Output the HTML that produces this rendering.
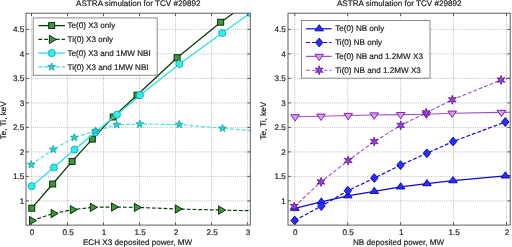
<!DOCTYPE html>
<html><head><meta charset="utf-8"><style>
html,body{margin:0;padding:0;background:#fff;}
svg{display:block;will-change:transform;}
text{text-rendering:geometricPrecision;font-family:'Liberation Sans', sans-serif;font-size:8.1px;fill:#1a1a1a;stroke:#1a1a1a;stroke-width:0.18px;}
</style></head><body>
<svg width="512" height="247" viewBox="0 0 512 247">
<rect width="512" height="247" fill="#fff"/>
<clipPath id="cl"><rect x="26.0" y="13.2" width="224.3" height="211.9"/></clipPath>
<clipPath id="cr"><rect x="288" y="13.2" width="222.2" height="211.9"/></clipPath>
<line x1="31.5" y1="13.2" x2="31.5" y2="225.1" stroke="#bcbcbc" stroke-width="1" stroke-dasharray="1 1.2"/>
<line x1="67.52" y1="13.2" x2="67.52" y2="225.1" stroke="#bcbcbc" stroke-width="1" stroke-dasharray="1 1.2"/>
<line x1="103.53" y1="13.2" x2="103.53" y2="225.1" stroke="#bcbcbc" stroke-width="1" stroke-dasharray="1 1.2"/>
<line x1="139.55" y1="13.2" x2="139.55" y2="225.1" stroke="#bcbcbc" stroke-width="1" stroke-dasharray="1 1.2"/>
<line x1="175.56" y1="13.2" x2="175.56" y2="225.1" stroke="#bcbcbc" stroke-width="1" stroke-dasharray="1 1.2"/>
<line x1="211.57" y1="13.2" x2="211.57" y2="225.1" stroke="#bcbcbc" stroke-width="1" stroke-dasharray="1 1.2"/>
<line x1="247.59" y1="13.2" x2="247.59" y2="225.1" stroke="#bcbcbc" stroke-width="1" stroke-dasharray="1 1.2"/>
<line x1="26" y1="200.9" x2="250.3" y2="200.9" stroke="#bcbcbc" stroke-width="1" stroke-dasharray="1 1.2"/>
<line x1="26" y1="176.4" x2="250.3" y2="176.4" stroke="#bcbcbc" stroke-width="1" stroke-dasharray="1 1.2"/>
<line x1="26" y1="151.9" x2="250.3" y2="151.9" stroke="#bcbcbc" stroke-width="1" stroke-dasharray="1 1.2"/>
<line x1="26" y1="127.4" x2="250.3" y2="127.4" stroke="#bcbcbc" stroke-width="1" stroke-dasharray="1 1.2"/>
<line x1="26" y1="102.9" x2="250.3" y2="102.9" stroke="#bcbcbc" stroke-width="1" stroke-dasharray="1 1.2"/>
<line x1="26" y1="78.4" x2="250.3" y2="78.4" stroke="#bcbcbc" stroke-width="1" stroke-dasharray="1 1.2"/>
<line x1="26" y1="53.9" x2="250.3" y2="53.9" stroke="#bcbcbc" stroke-width="1" stroke-dasharray="1 1.2"/>
<line x1="26" y1="29.4" x2="250.3" y2="29.4" stroke="#bcbcbc" stroke-width="1" stroke-dasharray="1 1.2"/>
<polyline points="31.8,208.2 52.7,184 72.1,161.4 92.3,139.1 113.2,117 137,95.2 177.1,57.7 220.7,22.2 252,0" fill="none" stroke="#0a3e0a" stroke-width="1.3" clip-path="url(#cl)"/>
<rect x="28.8" y="205.2" width="6.0" height="6.0" fill="#3a9a3a" stroke="#021e02" stroke-width="0.9"/>
<rect x="49.7" y="181" width="6.0" height="6.0" fill="#3a9a3a" stroke="#021e02" stroke-width="0.9"/>
<rect x="69.1" y="158.4" width="6.0" height="6.0" fill="#3a9a3a" stroke="#021e02" stroke-width="0.9"/>
<rect x="89.3" y="136.1" width="6.0" height="6.0" fill="#3a9a3a" stroke="#021e02" stroke-width="0.9"/>
<rect x="110.2" y="114" width="6.0" height="6.0" fill="#3a9a3a" stroke="#021e02" stroke-width="0.9"/>
<rect x="134" y="92.2" width="6.0" height="6.0" fill="#3a9a3a" stroke="#021e02" stroke-width="0.9"/>
<rect x="174.1" y="54.7" width="6.0" height="6.0" fill="#3a9a3a" stroke="#021e02" stroke-width="0.9"/>
<rect x="217.7" y="19.2" width="6.0" height="6.0" fill="#3a9a3a" stroke="#021e02" stroke-width="0.9"/>
<polyline points="31.8,220.6 53.4,213.5 72.6,209.7 92.6,207.3 113.8,207 136.7,207.4 177.6,209 220.9,210.1 262,211" fill="none" stroke="#0a3e0a" stroke-width="1.2" stroke-dasharray="3.8 2.0" clip-path="url(#cl)"/>
<polygon points="29.47,216.4 36.47,220.6 29.47,224.8" fill="#3a9a3a" stroke="#021e02" stroke-width="0.9" stroke-linejoin="miter"/>
<polygon points="51.07,209.3 58.07,213.5 51.07,217.7" fill="#3a9a3a" stroke="#021e02" stroke-width="0.9" stroke-linejoin="miter"/>
<polygon points="70.27,205.5 77.27,209.7 70.27,213.9" fill="#3a9a3a" stroke="#021e02" stroke-width="0.9" stroke-linejoin="miter"/>
<polygon points="90.27,203.1 97.27,207.3 90.27,211.5" fill="#3a9a3a" stroke="#021e02" stroke-width="0.9" stroke-linejoin="miter"/>
<polygon points="111.47,202.8 118.47,207 111.47,211.2" fill="#3a9a3a" stroke="#021e02" stroke-width="0.9" stroke-linejoin="miter"/>
<polygon points="134.37,203.2 141.37,207.4 134.37,211.6" fill="#3a9a3a" stroke="#021e02" stroke-width="0.9" stroke-linejoin="miter"/>
<polygon points="175.27,204.8 182.27,209 175.27,213.2" fill="#3a9a3a" stroke="#021e02" stroke-width="0.9" stroke-linejoin="miter"/>
<polygon points="218.57,205.9 225.57,210.1 218.57,214.3" fill="#3a9a3a" stroke="#021e02" stroke-width="0.9" stroke-linejoin="miter"/>
<polyline points="31.7,186.2 53.8,167.5 74.6,149.6 95.4,132.2 117,114.6 140,95.2 179.5,64 222.2,33 250.6,12.9" fill="none" stroke="#28e2e2" stroke-width="1.3" clip-path="url(#cl)"/>
<circle cx="31.7" cy="186.2" r="3.6" fill="#30ecec" stroke="#12aaaa" stroke-width="0.8"/>
<circle cx="53.8" cy="167.5" r="3.6" fill="#30ecec" stroke="#12aaaa" stroke-width="0.8"/>
<circle cx="74.6" cy="149.6" r="3.6" fill="#30ecec" stroke="#12aaaa" stroke-width="0.8"/>
<circle cx="95.4" cy="132.2" r="3.6" fill="#30ecec" stroke="#12aaaa" stroke-width="0.8"/>
<circle cx="117" cy="114.6" r="3.6" fill="#30ecec" stroke="#12aaaa" stroke-width="0.8"/>
<circle cx="140" cy="95.2" r="3.6" fill="#30ecec" stroke="#12aaaa" stroke-width="0.8"/>
<circle cx="179.5" cy="64" r="3.6" fill="#30ecec" stroke="#12aaaa" stroke-width="0.8"/>
<circle cx="222.2" cy="33" r="3.6" fill="#30ecec" stroke="#12aaaa" stroke-width="0.8"/>
<g clip-path="url(#cl)"><circle cx="250.6" cy="12.9" r="3.6" fill="#30ecec" stroke="#12aaaa" stroke-width="0.8"/></g>
<polyline points="31.2,164.6 53.2,149.4 74.3,137.5 95.6,131 116.7,124.7 139.8,124.1 179.2,124.5 222.5,128.3 262,131.5" fill="none" stroke="#40dede" stroke-width="1.1" stroke-dasharray="3.8 2.0" clip-path="url(#cl)"/>
<polygon points="31.2,160.5 32.17,163.27 35.1,163.33 32.77,165.11 33.61,167.92 31.2,166.25 28.79,167.92 29.63,165.11 27.3,163.33 30.23,163.27" fill="#22d4d0" stroke="#10a4a4" stroke-width="0.8"/>
<polygon points="53.2,145.3 54.17,148.07 57.1,148.13 54.77,149.91 55.61,152.72 53.2,151.05 50.79,152.72 51.63,149.91 49.3,148.13 52.23,148.07" fill="#22d4d0" stroke="#10a4a4" stroke-width="0.8"/>
<polygon points="74.3,133.4 75.27,136.17 78.2,136.23 75.87,138.01 76.71,140.82 74.3,139.15 71.89,140.82 72.73,138.01 70.4,136.23 73.33,136.17" fill="#22d4d0" stroke="#10a4a4" stroke-width="0.8"/>
<polygon points="95.6,126.9 96.57,129.67 99.5,129.73 97.17,131.51 98.01,134.32 95.6,132.65 93.19,134.32 94.03,131.51 91.7,129.73 94.63,129.67" fill="#22d4d0" stroke="#10a4a4" stroke-width="0.8"/>
<polygon points="116.7,120.6 117.67,123.37 120.6,123.43 118.27,125.21 119.11,128.02 116.7,126.35 114.29,128.02 115.13,125.21 112.8,123.43 115.73,123.37" fill="#22d4d0" stroke="#10a4a4" stroke-width="0.8"/>
<polygon points="139.8,120 140.77,122.77 143.7,122.83 141.37,124.61 142.21,127.42 139.8,125.75 137.39,127.42 138.23,124.61 135.9,122.83 138.83,122.77" fill="#22d4d0" stroke="#10a4a4" stroke-width="0.8"/>
<polygon points="179.2,120.4 180.17,123.17 183.1,123.23 180.77,125.01 181.61,127.82 179.2,126.15 176.79,127.82 177.63,125.01 175.3,123.23 178.23,123.17" fill="#22d4d0" stroke="#10a4a4" stroke-width="0.8"/>
<polygon points="222.5,124.2 223.47,126.97 226.4,127.03 224.07,128.81 224.91,131.62 222.5,129.95 220.09,131.62 220.93,128.81 218.6,127.03 221.53,126.97" fill="#22d4d0" stroke="#10a4a4" stroke-width="0.8"/>
<line x1="31.5" y1="225.1" x2="31.5" y2="222.3" stroke="#444" stroke-width="0.9"/>
<line x1="31.5" y1="13.2" x2="31.5" y2="16" stroke="#444" stroke-width="0.9"/>
<line x1="67.52" y1="225.1" x2="67.52" y2="222.3" stroke="#444" stroke-width="0.9"/>
<line x1="67.52" y1="13.2" x2="67.52" y2="16" stroke="#444" stroke-width="0.9"/>
<line x1="103.53" y1="225.1" x2="103.53" y2="222.3" stroke="#444" stroke-width="0.9"/>
<line x1="103.53" y1="13.2" x2="103.53" y2="16" stroke="#444" stroke-width="0.9"/>
<line x1="139.55" y1="225.1" x2="139.55" y2="222.3" stroke="#444" stroke-width="0.9"/>
<line x1="139.55" y1="13.2" x2="139.55" y2="16" stroke="#444" stroke-width="0.9"/>
<line x1="175.56" y1="225.1" x2="175.56" y2="222.3" stroke="#444" stroke-width="0.9"/>
<line x1="175.56" y1="13.2" x2="175.56" y2="16" stroke="#444" stroke-width="0.9"/>
<line x1="211.57" y1="225.1" x2="211.57" y2="222.3" stroke="#444" stroke-width="0.9"/>
<line x1="211.57" y1="13.2" x2="211.57" y2="16" stroke="#444" stroke-width="0.9"/>
<line x1="247.59" y1="225.1" x2="247.59" y2="222.3" stroke="#444" stroke-width="0.9"/>
<line x1="247.59" y1="13.2" x2="247.59" y2="16" stroke="#444" stroke-width="0.9"/>
<line x1="26" y1="200.9" x2="28.8" y2="200.9" stroke="#444" stroke-width="0.9"/>
<line x1="250.3" y1="200.9" x2="247.5" y2="200.9" stroke="#444" stroke-width="0.9"/>
<line x1="26" y1="176.4" x2="28.8" y2="176.4" stroke="#444" stroke-width="0.9"/>
<line x1="250.3" y1="176.4" x2="247.5" y2="176.4" stroke="#444" stroke-width="0.9"/>
<line x1="26" y1="151.9" x2="28.8" y2="151.9" stroke="#444" stroke-width="0.9"/>
<line x1="250.3" y1="151.9" x2="247.5" y2="151.9" stroke="#444" stroke-width="0.9"/>
<line x1="26" y1="127.4" x2="28.8" y2="127.4" stroke="#444" stroke-width="0.9"/>
<line x1="250.3" y1="127.4" x2="247.5" y2="127.4" stroke="#444" stroke-width="0.9"/>
<line x1="26" y1="102.9" x2="28.8" y2="102.9" stroke="#444" stroke-width="0.9"/>
<line x1="250.3" y1="102.9" x2="247.5" y2="102.9" stroke="#444" stroke-width="0.9"/>
<line x1="26" y1="78.4" x2="28.8" y2="78.4" stroke="#444" stroke-width="0.9"/>
<line x1="250.3" y1="78.4" x2="247.5" y2="78.4" stroke="#444" stroke-width="0.9"/>
<line x1="26" y1="53.9" x2="28.8" y2="53.9" stroke="#444" stroke-width="0.9"/>
<line x1="250.3" y1="53.9" x2="247.5" y2="53.9" stroke="#444" stroke-width="0.9"/>
<line x1="26" y1="29.4" x2="28.8" y2="29.4" stroke="#444" stroke-width="0.9"/>
<line x1="250.3" y1="29.4" x2="247.5" y2="29.4" stroke="#444" stroke-width="0.9"/>
<rect x="26" y="13.2" width="224.3" height="211.9" fill="none" stroke="#555" stroke-width="0.95"/>
<text x="32" y="234.7" text-anchor="middle" >0</text>
<text x="68.02" y="234.7" text-anchor="middle" >0.5</text>
<text x="104.03" y="234.7" text-anchor="middle" >1</text>
<text x="140.05" y="234.7" text-anchor="middle" >1.5</text>
<text x="176.06" y="234.7" text-anchor="middle" >2</text>
<text x="212.07" y="234.7" text-anchor="middle" >2.5</text>
<text x="248.09" y="234.7" text-anchor="middle" >3</text>
<text x="24.2" y="203.8" text-anchor="end" >1</text>
<text x="24.2" y="179.3" text-anchor="end" >1.5</text>
<text x="24.2" y="154.8" text-anchor="end" >2</text>
<text x="24.2" y="130.3" text-anchor="end" >2.5</text>
<text x="24.2" y="105.8" text-anchor="end" >3</text>
<text x="24.2" y="81.3" text-anchor="end" >3.5</text>
<text x="24.2" y="56.8" text-anchor="end" >4</text>
<text x="24.2" y="32.3" text-anchor="end" >4.5</text>
<text x="138.3" y="5.5" text-anchor="middle" >ASTRA simulation for TCV #29892</text>
<text x="137.6" y="245.1" text-anchor="middle" >ECH X3 deposited power, MW</text>
<text x="0" y="0" text-anchor="middle" transform="translate(5.5,120.3) rotate(-90)">Te, Ti, keV</text>
<rect x="33.2" y="17.9" width="124" height="57.4" fill="#fff" stroke="#8a8a8a" stroke-width="1"/>
<line x1="38.4" y1="25.6" x2="65" y2="25.6" stroke="#0a3e0a" stroke-width="1.3"/>
<rect x="48.7" y="22.6" width="6.0" height="6.0" fill="#3a9a3a" stroke="#021e02" stroke-width="0.9"/>
<text x="67.5" y="28.2" text-anchor="start" >Te(0) X3 only</text>
<line x1="38.4" y1="39.4" x2="65" y2="39.4" stroke="#0a3e0a" stroke-width="1.2" stroke-dasharray="3.8 2.0"/>
<polygon points="49.37,35.2 56.37,39.4 49.37,43.6" fill="#3a9a3a" stroke="#021e02" stroke-width="0.9" stroke-linejoin="miter"/>
<text x="67.5" y="42" text-anchor="start" >Ti(0) X3 only</text>
<line x1="38.4" y1="53.1" x2="65" y2="53.1" stroke="#28e2e2" stroke-width="1.3"/>
<circle cx="51.7" cy="53.1" r="3.6" fill="#30ecec" stroke="#12aaaa" stroke-width="0.8"/>
<text x="67.5" y="55.7" text-anchor="start" >Te(0) X3 and 1MW NBI</text>
<line x1="38.4" y1="66.9" x2="65" y2="66.9" stroke="#40dede" stroke-width="1.2" stroke-dasharray="3.8 2.0"/>
<polygon points="51.7,62.8 52.67,65.57 55.6,65.63 53.27,67.41 54.11,70.22 51.7,68.55 49.29,70.22 50.13,67.41 47.8,65.63 50.73,65.57" fill="#22d4d0" stroke="#10a4a4" stroke-width="0.8"/>
<text x="67.5" y="69.5" text-anchor="start" >Ti(0) X3 and 1MW NBI</text>
<line x1="294.8" y1="13.2" x2="294.8" y2="225.1" stroke="#bcbcbc" stroke-width="1" stroke-dasharray="1 1.2"/>
<line x1="347.73" y1="13.2" x2="347.73" y2="225.1" stroke="#bcbcbc" stroke-width="1" stroke-dasharray="1 1.2"/>
<line x1="400.65" y1="13.2" x2="400.65" y2="225.1" stroke="#bcbcbc" stroke-width="1" stroke-dasharray="1 1.2"/>
<line x1="453.57" y1="13.2" x2="453.57" y2="225.1" stroke="#bcbcbc" stroke-width="1" stroke-dasharray="1 1.2"/>
<line x1="506.5" y1="13.2" x2="506.5" y2="225.1" stroke="#bcbcbc" stroke-width="1" stroke-dasharray="1 1.2"/>
<line x1="288" y1="200.9" x2="510.2" y2="200.9" stroke="#bcbcbc" stroke-width="1" stroke-dasharray="1 1.2"/>
<line x1="288" y1="176.4" x2="510.2" y2="176.4" stroke="#bcbcbc" stroke-width="1" stroke-dasharray="1 1.2"/>
<line x1="288" y1="151.9" x2="510.2" y2="151.9" stroke="#bcbcbc" stroke-width="1" stroke-dasharray="1 1.2"/>
<line x1="288" y1="127.4" x2="510.2" y2="127.4" stroke="#bcbcbc" stroke-width="1" stroke-dasharray="1 1.2"/>
<line x1="288" y1="102.9" x2="510.2" y2="102.9" stroke="#bcbcbc" stroke-width="1" stroke-dasharray="1 1.2"/>
<line x1="288" y1="78.4" x2="510.2" y2="78.4" stroke="#bcbcbc" stroke-width="1" stroke-dasharray="1 1.2"/>
<line x1="288" y1="53.9" x2="510.2" y2="53.9" stroke="#bcbcbc" stroke-width="1" stroke-dasharray="1 1.2"/>
<line x1="288" y1="29.4" x2="510.2" y2="29.4" stroke="#bcbcbc" stroke-width="1" stroke-dasharray="1 1.2"/>
<polyline points="294.8,208.3 321.3,201.9 347.8,195.8 374.3,191.4 400.7,186.9 427,183.7 453,180.7 505.3,175.9 520,174.9" fill="none" stroke="#0a0ad8" stroke-width="1.2" clip-path="url(#cr)"/>
<polygon points="294.8,204.17 299.1,210.37 290.5,210.37" fill="#2c2cff" stroke="#0000b4" stroke-width="0.9"/>
<polygon points="321.3,197.77 325.6,203.97 317,203.97" fill="#2c2cff" stroke="#0000b4" stroke-width="0.9"/>
<polygon points="347.8,191.67 352.1,197.87 343.5,197.87" fill="#2c2cff" stroke="#0000b4" stroke-width="0.9"/>
<polygon points="374.3,187.27 378.6,193.47 370,193.47" fill="#2c2cff" stroke="#0000b4" stroke-width="0.9"/>
<polygon points="400.7,182.77 405,188.97 396.4,188.97" fill="#2c2cff" stroke="#0000b4" stroke-width="0.9"/>
<polygon points="427,179.57 431.3,185.77 422.7,185.77" fill="#2c2cff" stroke="#0000b4" stroke-width="0.9"/>
<polygon points="453,176.57 457.3,182.77 448.7,182.77" fill="#2c2cff" stroke="#0000b4" stroke-width="0.9"/>
<polygon points="505.3,171.77 509.6,177.97 501,177.97" fill="#2c2cff" stroke="#0000b4" stroke-width="0.9"/>
<polyline points="294.7,220.5 321.4,206.1 347.8,190.7 374.3,178.1 400.5,165.1 426.9,153.3 453.1,141.5 505.3,122 520,118.5" fill="none" stroke="#0a0ad8" stroke-width="1.2" stroke-dasharray="3.8 2.0" clip-path="url(#cr)"/>
<polygon points="294.7,216.1 298.4,220.5 294.7,224.9 291,220.5" fill="#2c2cff" stroke="#0000b4" stroke-width="0.9"/>
<polygon points="321.4,201.7 325.1,206.1 321.4,210.5 317.7,206.1" fill="#2c2cff" stroke="#0000b4" stroke-width="0.9"/>
<polygon points="347.8,186.3 351.5,190.7 347.8,195.1 344.1,190.7" fill="#2c2cff" stroke="#0000b4" stroke-width="0.9"/>
<polygon points="374.3,173.7 378,178.1 374.3,182.5 370.6,178.1" fill="#2c2cff" stroke="#0000b4" stroke-width="0.9"/>
<polygon points="400.5,160.7 404.2,165.1 400.5,169.5 396.8,165.1" fill="#2c2cff" stroke="#0000b4" stroke-width="0.9"/>
<polygon points="426.9,148.9 430.6,153.3 426.9,157.7 423.2,153.3" fill="#2c2cff" stroke="#0000b4" stroke-width="0.9"/>
<polygon points="453.1,137.1 456.8,141.5 453.1,145.9 449.4,141.5" fill="#2c2cff" stroke="#0000b4" stroke-width="0.9"/>
<polygon points="505.3,117.6 509,122 505.3,126.4 501.6,122" fill="#2c2cff" stroke="#0000b4" stroke-width="0.9"/>
<polyline points="295.1,116.8 321,116.2 348.2,115.5 374.2,115 400.7,114.6 426.5,114.2 452.2,113.2 501.4,112.4 520,112" fill="none" stroke="#9a50cc" stroke-width="1.1" clip-path="url(#cr)"/>
<polygon points="290.8,114.67 299.4,114.67 295.1,121.07" fill="#e294ff" stroke="#6a1e9a" stroke-width="0.9"/>
<polygon points="316.7,114.07 325.3,114.07 321,120.47" fill="#e294ff" stroke="#6a1e9a" stroke-width="0.9"/>
<polygon points="343.9,113.37 352.5,113.37 348.2,119.77" fill="#e294ff" stroke="#6a1e9a" stroke-width="0.9"/>
<polygon points="369.9,112.87 378.5,112.87 374.2,119.27" fill="#e294ff" stroke="#6a1e9a" stroke-width="0.9"/>
<polygon points="396.4,112.47 405,112.47 400.7,118.87" fill="#e294ff" stroke="#6a1e9a" stroke-width="0.9"/>
<polygon points="422.2,112.07 430.8,112.07 426.5,118.47" fill="#e294ff" stroke="#6a1e9a" stroke-width="0.9"/>
<polygon points="447.9,111.07 456.5,111.07 452.2,117.47" fill="#e294ff" stroke="#6a1e9a" stroke-width="0.9"/>
<polygon points="497.1,110.27 505.7,110.27 501.4,116.67" fill="#e294ff" stroke="#6a1e9a" stroke-width="0.9"/>
<polyline points="294.2,206.6 321,181.9 348.2,160.5 374.2,141.6 400.7,125.3 426.1,112.8 452.3,99.8 501,80 520,75.5" fill="none" stroke="#9652d2" stroke-width="1.1" stroke-dasharray="3.8 2.0" clip-path="url(#cr)"/>
<polygon points="294.2,202.1 295.2,204.87 298.1,204.35 296.2,206.6 298.1,208.85 295.2,208.33 294.2,211.1 293.2,208.33 290.3,208.85 292.2,206.6 290.3,204.35 293.2,204.87" fill="#9440d4" stroke="#5a1494" stroke-width="0.8"/>
<polygon points="321,177.4 322,180.17 324.9,179.65 323,181.9 324.9,184.15 322,183.63 321,186.4 320,183.63 317.1,184.15 319,181.9 317.1,179.65 320,180.17" fill="#9440d4" stroke="#5a1494" stroke-width="0.8"/>
<polygon points="348.2,156 349.2,158.77 352.1,158.25 350.2,160.5 352.1,162.75 349.2,162.23 348.2,165 347.2,162.23 344.3,162.75 346.2,160.5 344.3,158.25 347.2,158.77" fill="#9440d4" stroke="#5a1494" stroke-width="0.8"/>
<polygon points="374.2,137.1 375.2,139.87 378.1,139.35 376.2,141.6 378.1,143.85 375.2,143.33 374.2,146.1 373.2,143.33 370.3,143.85 372.2,141.6 370.3,139.35 373.2,139.87" fill="#9440d4" stroke="#5a1494" stroke-width="0.8"/>
<polygon points="400.7,120.8 401.7,123.57 404.6,123.05 402.7,125.3 404.6,127.55 401.7,127.03 400.7,129.8 399.7,127.03 396.8,127.55 398.7,125.3 396.8,123.05 399.7,123.57" fill="#9440d4" stroke="#5a1494" stroke-width="0.8"/>
<polygon points="426.1,108.3 427.1,111.07 430,110.55 428.1,112.8 430,115.05 427.1,114.53 426.1,117.3 425.1,114.53 422.2,115.05 424.1,112.8 422.2,110.55 425.1,111.07" fill="#9440d4" stroke="#5a1494" stroke-width="0.8"/>
<polygon points="452.3,95.3 453.3,98.07 456.2,97.55 454.3,99.8 456.2,102.05 453.3,101.53 452.3,104.3 451.3,101.53 448.4,102.05 450.3,99.8 448.4,97.55 451.3,98.07" fill="#9440d4" stroke="#5a1494" stroke-width="0.8"/>
<polygon points="501,75.5 502,78.27 504.9,77.75 503,80 504.9,82.25 502,81.73 501,84.5 500,81.73 497.1,82.25 499,80 497.1,77.75 500,78.27" fill="#9440d4" stroke="#5a1494" stroke-width="0.8"/>
<line x1="294.8" y1="225.1" x2="294.8" y2="222.3" stroke="#444" stroke-width="0.9"/>
<line x1="294.8" y1="13.2" x2="294.8" y2="16" stroke="#444" stroke-width="0.9"/>
<line x1="347.73" y1="225.1" x2="347.73" y2="222.3" stroke="#444" stroke-width="0.9"/>
<line x1="347.73" y1="13.2" x2="347.73" y2="16" stroke="#444" stroke-width="0.9"/>
<line x1="400.65" y1="225.1" x2="400.65" y2="222.3" stroke="#444" stroke-width="0.9"/>
<line x1="400.65" y1="13.2" x2="400.65" y2="16" stroke="#444" stroke-width="0.9"/>
<line x1="453.57" y1="225.1" x2="453.57" y2="222.3" stroke="#444" stroke-width="0.9"/>
<line x1="453.57" y1="13.2" x2="453.57" y2="16" stroke="#444" stroke-width="0.9"/>
<line x1="506.5" y1="225.1" x2="506.5" y2="222.3" stroke="#444" stroke-width="0.9"/>
<line x1="506.5" y1="13.2" x2="506.5" y2="16" stroke="#444" stroke-width="0.9"/>
<line x1="288" y1="200.9" x2="290.8" y2="200.9" stroke="#444" stroke-width="0.9"/>
<line x1="510.2" y1="200.9" x2="507.4" y2="200.9" stroke="#444" stroke-width="0.9"/>
<line x1="288" y1="176.4" x2="290.8" y2="176.4" stroke="#444" stroke-width="0.9"/>
<line x1="510.2" y1="176.4" x2="507.4" y2="176.4" stroke="#444" stroke-width="0.9"/>
<line x1="288" y1="151.9" x2="290.8" y2="151.9" stroke="#444" stroke-width="0.9"/>
<line x1="510.2" y1="151.9" x2="507.4" y2="151.9" stroke="#444" stroke-width="0.9"/>
<line x1="288" y1="127.4" x2="290.8" y2="127.4" stroke="#444" stroke-width="0.9"/>
<line x1="510.2" y1="127.4" x2="507.4" y2="127.4" stroke="#444" stroke-width="0.9"/>
<line x1="288" y1="102.9" x2="290.8" y2="102.9" stroke="#444" stroke-width="0.9"/>
<line x1="510.2" y1="102.9" x2="507.4" y2="102.9" stroke="#444" stroke-width="0.9"/>
<line x1="288" y1="78.4" x2="290.8" y2="78.4" stroke="#444" stroke-width="0.9"/>
<line x1="510.2" y1="78.4" x2="507.4" y2="78.4" stroke="#444" stroke-width="0.9"/>
<line x1="288" y1="53.9" x2="290.8" y2="53.9" stroke="#444" stroke-width="0.9"/>
<line x1="510.2" y1="53.9" x2="507.4" y2="53.9" stroke="#444" stroke-width="0.9"/>
<line x1="288" y1="29.4" x2="290.8" y2="29.4" stroke="#444" stroke-width="0.9"/>
<line x1="510.2" y1="29.4" x2="507.4" y2="29.4" stroke="#444" stroke-width="0.9"/>
<rect x="288" y="13.2" width="222.2" height="211.9" fill="none" stroke="#555" stroke-width="0.95"/>
<text x="295.3" y="234.7" text-anchor="middle" >0</text>
<text x="348.23" y="234.7" text-anchor="middle" >0.5</text>
<text x="401.15" y="234.7" text-anchor="middle" >1</text>
<text x="454.07" y="234.7" text-anchor="middle" >1.5</text>
<text x="507" y="234.7" text-anchor="middle" >2</text>
<text x="285.8" y="203.8" text-anchor="end" >1</text>
<text x="285.8" y="179.3" text-anchor="end" >1.5</text>
<text x="285.8" y="154.8" text-anchor="end" >2</text>
<text x="285.8" y="130.3" text-anchor="end" >2.5</text>
<text x="285.8" y="105.8" text-anchor="end" >3</text>
<text x="285.8" y="81.3" text-anchor="end" >3.5</text>
<text x="285.8" y="56.8" text-anchor="end" >4</text>
<text x="285.8" y="32.3" text-anchor="end" >4.5</text>
<text x="399.2" y="5.5" text-anchor="middle" >ASTRA simulation for TCV #29892</text>
<text x="398.6" y="245.1" text-anchor="middle" >NB deposited power, MW</text>
<text x="0" y="0" text-anchor="middle" transform="translate(266.4,120.7) rotate(-90)">Te, Ti, keV</text>
<rect x="301.5" y="20.5" width="128.5" height="57.7" fill="#fff" stroke="#8a8a8a" stroke-width="1"/>
<line x1="306.1" y1="28.8" x2="331.6" y2="28.8" stroke="#0a0ad8" stroke-width="1.2"/>
<polygon points="319.2,24.67 323.5,30.87 314.9,30.87" fill="#2c2cff" stroke="#0000b4" stroke-width="0.9"/>
<text x="335.2" y="31.4" text-anchor="start" >Te(0) NB only</text>
<line x1="306.1" y1="42.5" x2="331.6" y2="42.5" stroke="#0a0ad8" stroke-width="1.1" stroke-dasharray="3.8 2.0"/>
<polygon points="319.2,38.1 322.9,42.5 319.2,46.9 315.5,42.5" fill="#2c2cff" stroke="#0000b4" stroke-width="0.9"/>
<text x="335.2" y="45.1" text-anchor="start" >Ti(0) NB only</text>
<line x1="306.1" y1="56.4" x2="331.6" y2="56.4" stroke="#9a50cc" stroke-width="1.2"/>
<polygon points="314.9,54.27 323.5,54.27 319.2,60.67" fill="#e294ff" stroke="#6a1e9a" stroke-width="0.9"/>
<text x="335.2" y="59" text-anchor="start" >Te(0) NB and 1.2MW X3</text>
<line x1="306.1" y1="70.2" x2="331.6" y2="70.2" stroke="#9652d2" stroke-width="1.1" stroke-dasharray="3.8 2.0"/>
<polygon points="319.2,65.7 320.2,68.47 323.1,67.95 321.2,70.2 323.1,72.45 320.2,71.93 319.2,74.7 318.2,71.93 315.3,72.45 317.2,70.2 315.3,67.95 318.2,68.47" fill="#9440d4" stroke="#5a1494" stroke-width="0.8"/>
<text x="335.2" y="72.8" text-anchor="start" >Ti(0) NB and 1.2MW X3</text>
</svg>
</body></html>
